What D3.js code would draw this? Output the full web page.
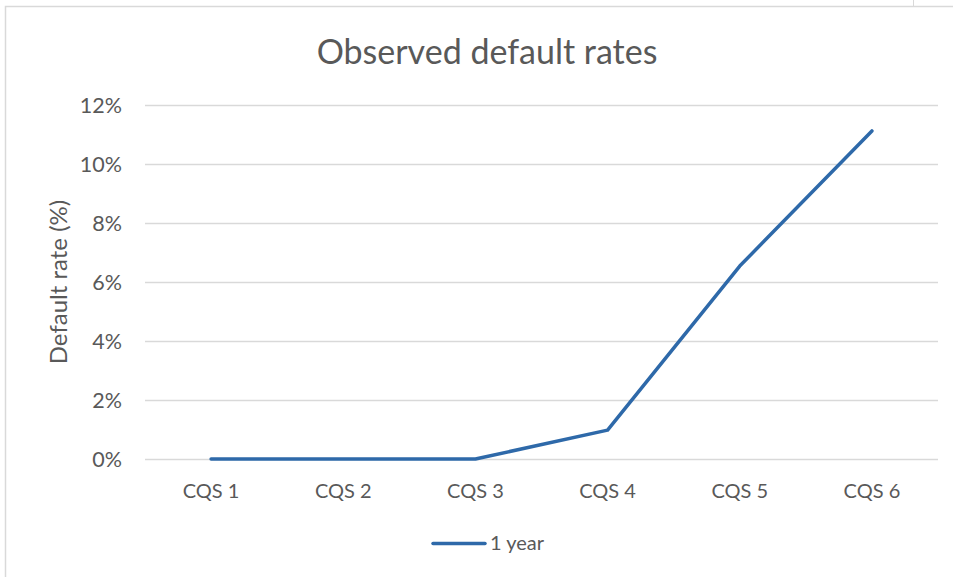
<!DOCTYPE html>
<html>
<head>
<meta charset="utf-8">
<script src="https://cdn.jsdelivr.net/npm/d3@7"></script>
<style>
  body { margin: 0; background: #fff; }
  text { font-family: Lato, "Open Sans", sans-serif; fill: #595959; }
</style>
</head>
<body>
<svg id="chart" width="953" height="577"></svg>
<script>
const categories = ["CQS 1", "CQS 2", "CQS 3", "CQS 4", "CQS 5", "CQS 6"];
const oneYear = [0, 0, 0, 0.0098, 0.0654, 0.1112];
const yTicks = [0, 0.02, 0.04, 0.06, 0.08, 0.10, 0.12];

const svg = d3.select("#chart");

// outer chart frame (runs off the page right/bottom)
svg.append("path")
  .attr("d", "M5.5,577 V6.5 H953")
  .attr("fill", "none")
  .attr("stroke", "#d9d9d9")
  .attr("stroke-width", 1.5);
svg.append("line")
  .attr("x1", 913.5).attr("x2", 913.5).attr("y1", 0).attr("y2", 6)
  .attr("stroke", "#d9d9d9");

const margin = { left: 145, right: 15, top: 105, bottom: 118 };
const W = 953, H = 577;

const x = d3.scaleBand()
  .domain(categories)
  .range([margin.left, W - margin.right]);

const y = d3.scaleLinear()
  .domain([0, 0.12])
  .range([H - margin.bottom, margin.top]);

// gridlines
svg.append("g")
  .selectAll("line")
  .data(yTicks)
  .join("line")
  .attr("x1", margin.left)
  .attr("x2", W - margin.right)
  .attr("y1", d => Math.round(y(d)) + 0.5)
  .attr("y2", d => Math.round(y(d)) + 0.5)
  .attr("stroke", "#d9d9d9")
  .attr("stroke-width", 1.3);

// y tick labels
svg.append("g")
  .selectAll("text")
  .data(yTicks)
  .join("text")
  .attr("x", 122)
  .attr("y", d => y(d) + 7.5)
  .attr("text-anchor", "end")
  .attr("font-size", "21.5px")
  .text(d3.format(".0%"));

// x tick labels
svg.append("g")
  .selectAll("text")
  .data(categories)
  .join("text")
  .attr("x", d => x(d) + x.bandwidth() / 2)
  .attr("y", 498)
  .attr("text-anchor", "middle")
  .attr("font-size", "20px")
  .text(d => d);

// series line
const line = d3.line()
  .x((d, i) => x(categories[i]) + x.bandwidth() / 2)
  .y(d => y(d));

svg.append("path")
  .datum(oneYear)
  .attr("d", line)
  .attr("fill", "none")
  .attr("stroke", "#2e69a9")
  .attr("stroke-width", 3.5)
  .attr("stroke-linejoin", "round")
  .attr("stroke-linecap", "round");

// title
svg.append("text")
  .attr("x", 487)
  .attr("y", 64)
  .attr("text-anchor", "middle")
  .attr("font-size", "34px")
  .text("Observed default rates");

// y axis title
svg.append("text")
  .attr("transform", "translate(67,282) rotate(-90)")
  .attr("text-anchor", "middle")
  .attr("font-size", "24px")
  .text("Default rate (%)");

// legend
svg.append("line")
  .attr("x1", 433).attr("x2", 485)
  .attr("y1", 543.5).attr("y2", 543.5)
  .attr("stroke", "#2e69a9")
  .attr("stroke-width", 3.5)
  .attr("stroke-linecap", "round");
svg.append("text")
  .attr("x", 490)
  .attr("y", 550)
  .attr("font-size", "20px")
  .text("1 year");
</script>
</body>
</html>
